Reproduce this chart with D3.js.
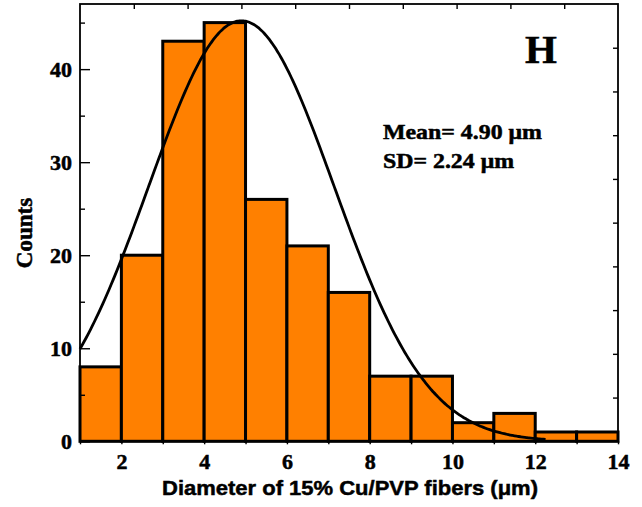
<!DOCTYPE html>
<html>
<head>
<meta charset="utf-8">
<script src="https://cdn.jsdelivr.net/npm/d3@7"></script>
<style>
  body { margin: 0; background: #fff; }
  svg { display: block; }
  text { fill: #000; stroke: #000; stroke-width: 0.5px; }
</style>
</head>
<body>
<svg id="chart" width="642" height="507"></svg>
<script>
// histogram bins (left edge) and counts
var binStarts = [1, 2, 3, 4, 5, 6, 7, 8, 9, 10, 11, 12, 13];
var binWidth = 1;
var counts = [8, 20, 43, 45, 26, 21, 16, 7, 7, 2, 3, 1, 1];

// gaussian fit shown on the plot
var fitMean = 4.90;
var fitSD = 2.24;
var fitPeak = 45.2;
var fitFrom = 1;
var fitTo = 12.25;

var xTicks = [2, 4, 6, 8, 10, 12, 14];
var xMinor = [1, 3, 5, 7, 9, 11, 13];
var yTicks = [0, 10, 20, 30, 40];
var yMinor = [5, 15, 25, 35, 45];

var svg = d3.select("#chart");
var plotLeft = 80, plotRight = 618, plotTop = 4, plotBottom = 441.3;

var x = d3.scaleLinear().domain([1, 14]).range([plotLeft, plotRight]);
var y = d3.scaleLinear().domain([0, 47]).range([plotBottom, plotTop]);
// the opposite axes carry their own 0-10 tick scale
var xTop = d3.scaleLinear().domain([0, 10]).range([plotLeft, plotRight]);
var yRight = d3.scaleLinear().domain([0, 10]).range([plotBottom, plotTop]);

var bars = binStarts.map(function(s, i) {
	return { x0: s, x1: s + binWidth, value: counts[i] };
});

svg.append("g")
	.selectAll("rect")
	.data(bars)
	.enter()
	.append("rect")
	.attr("x", function(d) { return x(d.x0); })
	.attr("y", function(d) { return y(d.value); })
	.attr("width", function(d) { return x(d.x1) - x(d.x0); })
	.attr("height", function(d) { return y(0) - y(d.value); })
	.attr("fill", "#ff8000")
	.attr("stroke", "#000")
	.attr("stroke-width", 3);

// fit curve
var curvePts = d3.range(fitFrom, fitTo + 0.001, 0.05).map(function(v) {
	return [v, fitPeak * Math.exp(-Math.pow(v - fitMean, 2) / (2 * fitSD * fitSD))];
});
svg.append("path")
	.datum(curvePts)
	.attr("fill", "none")
	.attr("stroke", "#000")
	.attr("stroke-width", 2.8)
	.attr("d", d3.line()
		.x(function(d) { return x(d[0]); })
		.y(function(d) { return y(d[1]); })
		.curve(d3.curveBasis));

// frame
svg.append("rect")
	.attr("x", plotLeft).attr("y", plotTop)
	.attr("width", plotRight - plotLeft).attr("height", plotBottom - plotTop)
	.attr("fill", "none")
	.attr("stroke", "#000")
	.attr("stroke-width", 1.8);

function styleAxis(g) {
	g.select(".domain").remove();
	g.selectAll(".tick line").attr("stroke", "#000").attr("stroke-width", 1.4);
	g.selectAll(".tick text")
		.attr("fill", "#000")
		.style("font-family", "'Liberation Serif', 'Times New Roman', serif")
		.style("font-weight", "bold")
		.style("font-size", "22px");
}

svg.append("g")
	.attr("transform", "translate(" + plotLeft + ",0)")
	.call(d3.axisLeft(y).tickValues(yTicks).tickSize(-10).tickPadding(8))
	.call(styleAxis);
svg.append("g")
	.attr("transform", "translate(" + plotLeft + ",0)")
	.call(d3.axisLeft(y).tickValues(yMinor).tickSize(-5).tickFormat(""))
	.call(styleAxis);

svg.append("g")
	.attr("transform", "translate(0," + plotBottom + ")")
	.call(d3.axisBottom(x).tickValues(xTicks).tickSize(3).tickPadding(9))
	.call(styleAxis);
svg.append("g")
	.attr("transform", "translate(0," + plotBottom + ")")
	.call(d3.axisBottom(x).tickValues(xMinor).tickSize(3).tickFormat(""))
	.call(styleAxis);

svg.append("g")
	.attr("transform", "translate(0," + plotTop + ")")
	.call(d3.axisTop(xTop).tickValues(d3.range(1, 10)).tickSize(-5).tickFormat(""))
	.call(styleAxis);
svg.append("g")
	.attr("transform", "translate(" + plotRight + ",0)")
	.call(d3.axisRight(yRight).tickValues(d3.range(1, 10)).tickSize(-5).tickFormat(""))
	.call(styleAxis);

// titles
svg.append("text")
	.attr("x", 162).attr("y", 495)
	.attr("textLength", 376)
	.attr("lengthAdjust", "spacingAndGlyphs")
	.style("font-family", "'Liberation Sans', Arial, sans-serif")
	.style("font-weight", "bold")
	.style("font-size", "21px")
	.text("Diameter of 15% Cu/PVP fibers (μm)");

svg.append("text")
	.attr("transform", "translate(32,233) rotate(-90)")
	.attr("text-anchor", "middle")
	.style("font-family", "'Liberation Serif', 'Times New Roman', serif")
	.style("font-weight", "bold")
	.style("font-size", "23px")
	.text("Counts");

svg.append("text")
	.attr("x", 525).attr("y", 63)
	.style("font-family", "'Liberation Serif', 'Times New Roman', serif")
	.style("font-weight", "bold")
	.style("font-size", "41px")
	.text("H");

svg.append("text")
	.attr("x", 383).attr("y", 139)
	.attr("textLength", 159)
	.attr("lengthAdjust", "spacingAndGlyphs")
	.style("font-family", "'Liberation Serif', 'Times New Roman', serif")
	.style("font-weight", "bold")
	.style("font-size", "21px")
	.text("Mean= 4.90 μm");

svg.append("text")
	.attr("x", 383).attr("y", 168)
	.attr("textLength", 131)
	.attr("lengthAdjust", "spacingAndGlyphs")
	.style("font-family", "'Liberation Serif', 'Times New Roman', serif")
	.style("font-weight", "bold")
	.style("font-size", "21px")
	.text("SD= 2.24 μm");
</script>
</body>
</html>
